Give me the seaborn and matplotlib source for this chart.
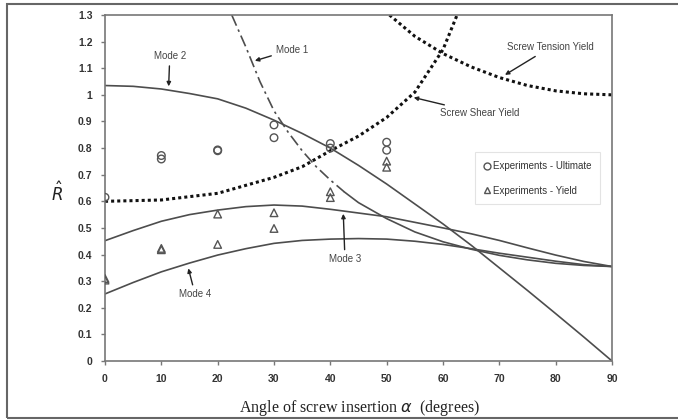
import numpy as np
import pandas as pd
import matplotlib
matplotlib.use("Agg")
import matplotlib.pyplot as plt
from matplotlib.lines import Line2D
from matplotlib.patches import Rectangle
import seaborn as sns

# ---- model curves (angle in degrees, R-hat) ----
mode1_angle = [22.5, 25, 27.5, 30, 32.5, 35, 37.5, 40, 42.5, 45, 50, 55, 60, 65, 70, 75, 80, 85, 90]
mode1_r = [1.30, 1.18, 1.05, 0.94, 0.86, 0.79, 0.73, 0.68, 0.635, 0.595, 0.535, 0.485, 0.448, 0.42, 0.397, 0.38, 0.367, 0.359, 0.355]

mode2_angle = [0, 5, 10, 15, 20, 25, 30, 35, 40, 45, 50, 55, 60, 65, 70, 75, 80, 85, 90]
mode2_r = [1.035, 1.032, 1.022, 1.005, 0.985, 0.95, 0.905, 0.855, 0.80, 0.735, 0.665, 0.59, 0.515, 0.435, 0.35, 0.265, 0.178, 0.09, 0.0]

mode3_angle = [0, 5, 10, 15, 20, 25, 30, 35, 40, 45, 50, 55, 60, 65, 70, 75, 80, 85, 90]
mode3_r = [0.452, 0.49, 0.525, 0.55, 0.567, 0.58, 0.586, 0.582, 0.57, 0.556, 0.542, 0.521, 0.50, 0.478, 0.453, 0.425, 0.398, 0.374, 0.355]

mode4_angle = [0, 5, 10, 15, 20, 25, 30, 35, 40, 45, 50, 55, 60, 65, 70, 75, 80, 85, 90]
mode4_r = [0.252, 0.295, 0.335, 0.368, 0.398, 0.422, 0.442, 0.453, 0.458, 0.46, 0.458, 0.45, 0.438, 0.422, 0.405, 0.39, 0.375, 0.362, 0.355]

shear_angle = [0, 10, 20, 30, 35, 40, 45, 50, 55, 60, 62.5]
shear_r = [0.60, 0.605, 0.63, 0.69, 0.73, 0.79, 0.845, 0.915, 1.01, 1.17, 1.30]

tension_angle = [50.5, 55, 60, 65, 70, 75, 80, 85, 90]
tension_r = [1.30, 1.22, 1.155, 1.105, 1.065, 1.035, 1.015, 1.004, 1.0]

# ---- experiments ----
ult_angle = [0, 10, 10, 20, 20, 30, 30, 40, 40, 50, 50]
ult_r = [0.615, 0.772, 0.759, 0.793, 0.79, 0.887, 0.839, 0.817, 0.80, 0.822, 0.792]

yld_angle = [0, 0, 10, 10, 20, 20, 30, 30, 40, 40, 50, 50]
yld_r = [0.304, 0.31, 0.423, 0.418, 0.552, 0.438, 0.557, 0.498, 0.636, 0.614, 0.751, 0.728]

x_ticks = [0, 10, 20, 30, 40, 50, 60, 70, 80, 90]
y_ticks = [0, 0.1, 0.2, 0.3, 0.4, 0.5, 0.6, 0.7, 0.8, 0.9, 1, 1.1, 1.2, 1.3]
y_ticklabels = ["0", "0.1", "0.2", "0.3", "0.4", "0.5", "0.6", "0.7", "0.8", "0.9", "1", "1.1", "1.2", "1.3"]

sns.set_style("ticks")
plt.rcParams["font.family"] = ["Liberation Sans", "DejaVu Sans"]

fig = plt.figure(figsize=(6.78, 4.2), dpi=100)
ax = fig.add_axes([105 / 678, 59 / 420, 507 / 678, 346 / 420])

line_col = "#4d4d4d"
mode1 = pd.DataFrame({"angle": mode1_angle, "R": mode1_r})
steep = mode1[mode1["angle"] <= 42.5]
flat = mode1[mode1["angle"] >= 42.5]
sns.lineplot(data=steep, x="angle", y="R", ax=ax, color=line_col, lw=1.2,
             linestyle=(0, (7, 2.5, 1.5, 2.5)), sort=False)
sns.lineplot(data=flat, x="angle", y="R", ax=ax, color=line_col, lw=1.2, sort=False)

for xs, ys in [(mode2_angle, mode2_r), (mode3_angle, mode3_r), (mode4_angle, mode4_r)]:
    sns.lineplot(x=xs, y=ys, ax=ax, color=line_col, lw=1.2, sort=False)

for xs, ys in [(shear_angle, shear_r), (tension_angle, tension_r)]:
    sns.lineplot(x=xs, y=ys, ax=ax, color="#111111", lw=2.2,
                 linestyle=(0, (1, 1)), sort=False)

sns.scatterplot(x=ult_angle, y=ult_r, ax=ax, marker="o", s=30,
                facecolor="none", edgecolor="#555555", linewidth=1.0, zorder=5)
sns.scatterplot(x=yld_angle, y=yld_r, ax=ax, marker="^", s=30,
                facecolor="none", edgecolor="#555555", linewidth=1.0, zorder=5)

ax.set_xlim(0, 90)
ax.set_ylim(0, 1.3)
ax.set_xticks(x_ticks)
ax.set_yticks(y_ticks)
ax.set_yticklabels(y_ticklabels)
ax.tick_params(axis="both", labelsize=7.5, length=3, width=1, color="#777777",
               labelcolor="#333333", pad=6)
for lbl in ax.get_xticklabels() + ax.get_yticklabels():
    lbl.set_fontweight("bold")
for sp in ax.spines.values():
    sp.set_color("#777777")
    sp.set_linewidth(1.2)
    sp.set_visible(True)

ax.set_xlabel("")
ax.set_ylabel("")
fig.text(360 / 678, 1 - 408 / 420, r"Angle of screw insertion $\alpha$  (degrees)",
         ha="center", va="center", fontsize=11.5, family=["Liberation Serif", "DejaVu Serif"],
         color="#222222")
fig.text(57 / 678, 1 - 193 / 420, r"$\hat{R}$", ha="center", va="center",
         fontsize=12, family=["Liberation Serif", "DejaVu Serif"], color="#222222")

# annotations with arrows
ann_style = dict(fontsize=7, color="#444444", ha="center", va="center")
arrow = dict(arrowstyle="-|>", color="#222222", lw=1.0, mutation_scale=6,
             shrinkA=1, shrinkB=0)
ax.annotate("Mode 2", xy=(11.3, 1.032), xytext=(11.5, 1.145), arrowprops=arrow, **ann_style)
ax.annotate("Mode 1", xy=(26.6, 1.128), xytext=(33.2, 1.17), arrowprops=arrow, **ann_style)
ax.annotate("Screw Tension Yield", xy=(71.0, 1.075), xytext=(79.0, 1.178), arrowprops=arrow, **ann_style)
ax.annotate("Screw Shear Yield", xy=(54.8, 0.99), xytext=(66.6, 0.93), arrowprops=arrow, **ann_style)
ax.annotate("Mode 3", xy=(42.3, 0.553), xytext=(42.6, 0.382), arrowprops=arrow, **ann_style)
ax.annotate("Mode 4", xy=(14.8, 0.348), xytext=(16.0, 0.25), arrowprops=arrow, **ann_style)

handles = [
    Line2D([], [], marker="o", linestyle="none", markerfacecolor="none",
           markeredgecolor="#555555", markersize=5, label="Experiments - Ultimate"),
    Line2D([], [], marker="^", linestyle="none", markerfacecolor="none",
           markeredgecolor="#555555", markersize=5, label="Experiments - Yield"),
]
leg = ax.legend(handles=handles, loc="upper left", bbox_to_anchor=(0.73, 0.603),
                fontsize=7, frameon=True, fancybox=False, handlelength=0.6,
                handletextpad=0.3, labelspacing=1.5, borderpad=0.9,
                borderaxespad=0)
leg.get_frame().set_edgecolor("#dddddd")
leg.get_frame().set_linewidth(0.8)
for t in leg.get_texts():
    t.set_color("#333333")

# outer frame around the figure
fig.patches.append(Rectangle((7 / 678, 2 / 420), 1.0, 414 / 420, transform=fig.transFigure,
                             fill=False, edgecolor="#666666", lw=1.5))

fig.savefig("out.png", dpi=100, facecolor="white")
